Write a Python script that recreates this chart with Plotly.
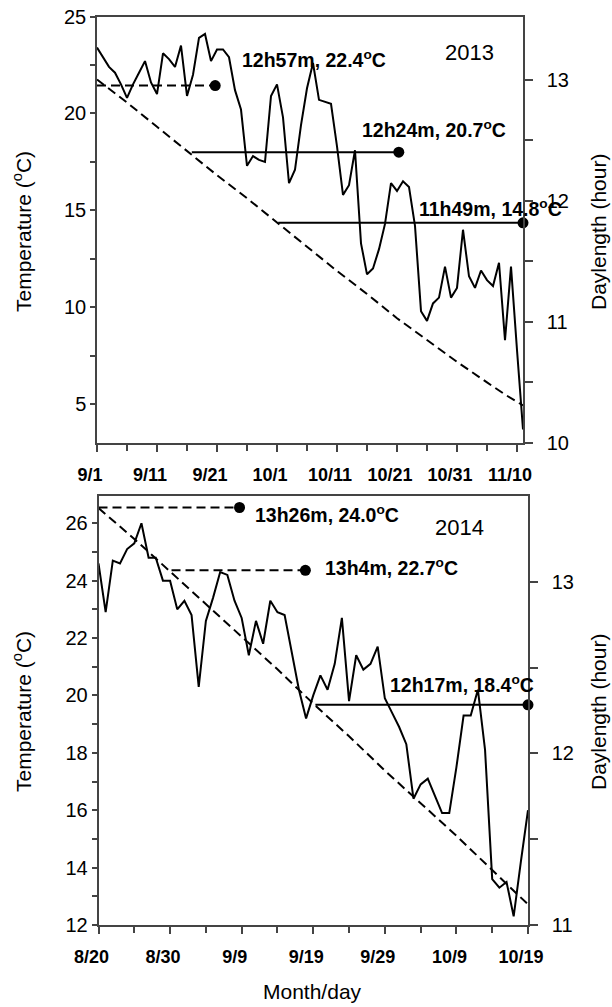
import plotly.graph_objects as go

# ---------------- data ----------------
# 2013 panel: day index 0 = 9/1
top_tick_days = [0, 10, 20, 30, 40, 50, 60, 70]
top_tick_text = ["9/1", "9/11", "9/21", "10/1", "10/11", "10/21", "10/31", "11/10"]
top_days = list(range(72))
top_temp = [23.4, 22.9, 22.4, 22.1, 21.5, 20.8, 21.5, 22.1, 22.7, 21.6,
            21.0, 23.1, 22.8, 22.4, 23.5, 20.9, 22.0, 23.9, 24.1, 22.7,
            23.3, 23.3, 22.9, 21.2, 20.2, 17.3, 17.8, 17.6, 17.5, 20.9,
            21.5, 19.8, 16.4, 17.1, 19.4, 21.3, 22.6, 20.7, 20.6, 20.5,
            18.3, 15.8, 16.3, 18.1, 13.3, 11.7, 12.0, 13.0, 14.3, 16.4,
            16.0, 16.5, 16.2, 14.2, 9.8, 9.3, 10.2, 10.5, 12.1, 10.5,
            11.0, 14.0, 11.6, 11.0, 11.9, 11.4, 11.1, 12.3, 8.3, 12.1,
            7.8, 3.7]
top_dl_days = [0, 5, 10, 15, 20, 25, 30, 35, 40, 45, 50, 55, 60, 65, 68, 71]
top_daylength = [13.00, 12.81, 12.61, 12.41, 12.21, 12.02, 11.82, 11.62,
                 11.42, 11.23, 11.03, 10.85, 10.67, 10.50, 10.40, 10.31]
top_ref_labels = ["12h57m, 22.4<sup>o</sup>C", "12h24m, 20.7<sup>o</sup>C", "11h49m, 14.8<sup>o</sup>C"]
top_ref_daylength = [12.95, 12.40, 11.817]
top_ref_start = [0, 15.8, 30.2]
top_ref_end = [19.7, 50.3, 71]

# 2014 panel: day index 0 = 8/20
bot_tick_days = [0, 10, 20, 30, 40, 50, 60]
bot_tick_text = ["8/20", "8/30", "9/9", "9/19", "9/29", "10/9", "10/19"]
bot_days = list(range(61))
bot_temp = [24.6, 22.9, 24.7, 24.6, 25.1, 25.3, 26.0, 24.8, 24.8, 24.0,
            24.0, 23.0, 23.3, 22.8, 20.3, 22.6, 23.4, 24.3, 24.2, 23.3,
            22.7, 21.4, 22.6, 21.8, 23.3, 22.9, 22.8, 21.5, 20.2, 19.2,
            20.0, 20.7, 20.2, 21.1, 22.7, 19.8, 21.4, 20.9, 21.1, 21.7,
            19.9, 19.4, 18.9, 18.3, 16.4, 16.9, 17.1, 16.5, 15.9, 15.9,
            17.5, 19.3, 19.3, 20.2, 18.1, 13.6, 13.3, 13.5, 12.3, 14.2,
            16.0]
bot_dl_days = [0, 5, 10, 15, 20, 25, 30, 35, 40, 45, 50, 55, 60]
bot_daylength = [13.43, 13.25, 13.06, 12.87, 12.68, 12.49, 12.29, 12.10,
                 11.90, 11.71, 11.52, 11.32, 11.12]
bot_ref_labels = ["13h26m, 24.0<sup>o</sup>C", "13h4m, 22.7<sup>o</sup>C", "12h17m, 18.4<sup>o</sup>C"]
bot_ref_daylength = [13.433, 13.067, 12.283]
bot_ref_start = [0, 10.2, 30.3]
bot_ref_end = [19.7, 28.9, 60]

# ---------------- figure ----------------
W, H = 612, 1007
FONT = "Arial, Liberation Sans, sans-serif"
AX = "#444444"
DASH = "9px,5px"


def px(x):
    return x / W


def py(y):
    return 1 - y / H


fig = go.Figure()


def add_panel(xa, ya_t, ya_d, days, temp, dl_days, dl, starts, ends, dls, dashed):
    fig.add_trace(go.Scatter(x=days, y=temp, mode="lines", xaxis=xa, yaxis=ya_t,
                             line=dict(color="black", width=2), cliponaxis=False,
                             showlegend=False, hoverinfo="skip"))
    fig.add_trace(go.Scatter(x=dl_days, y=dl, mode="lines", xaxis=xa, yaxis=ya_d,
                             line=dict(color="black", width=2, dash=DASH), cliponaxis=False,
                             showlegend=False, hoverinfo="skip"))
    for s, e, d, ds in zip(starts, ends, dls, dashed):
        fig.add_trace(go.Scatter(x=[s, e], y=[d, d], mode="lines", xaxis=xa, yaxis=ya_d,
                                 line=dict(color="black", width=2, dash=DASH if ds else "solid"),
                                 cliponaxis=False, showlegend=False, hoverinfo="skip"))
        fig.add_trace(go.Scatter(x=[e], y=[d], mode="markers", xaxis=xa, yaxis=ya_d,
                                 marker=dict(color="black", size=11), cliponaxis=False,
                                 showlegend=False, hoverinfo="skip"))


add_panel("x", "y", "y2", top_days, top_temp, top_dl_days, top_daylength,
          top_ref_start, top_ref_end, top_ref_daylength, [True, False, False])
add_panel("x2", "y3", "y4", bot_days, bot_temp, bot_dl_days, bot_daylength,
          bot_ref_start, bot_ref_end, bot_ref_daylength, [True, True, False])

common_axis = dict(showgrid=False, zeroline=False, showline=True, linecolor=AX,
                   linewidth=1.5, ticks="outside", tickcolor=AX, tickwidth=1.5,
                   automargin=False)

top_dom_x = [px(97), px(523)]
top_dom_y = [py(443), py(16.5)]
bot_dom_x = [px(98.5), px(528)]
bot_dom_y = [py(925), py(496)]

xfont = dict(family=FONT, size=18, color="black", weight="bold")
yfont = dict(family=FONT, size=20, color="black")

fig.update_layout(
    width=W, height=H, margin=dict(l=0, r=0, t=0, b=0, pad=0, autoexpand=False),
    paper_bgcolor="white", plot_bgcolor="white", showlegend=False,
    font=dict(family=FONT, color="black"),
    xaxis=dict(**common_axis, domain=top_dom_x, anchor="y", range=[0, 71],
               tickvals=top_tick_days, ticktext=top_tick_text, ticklen=7,
               tickfont=xfont, mirror=True, ticklabelshift=-7, ticklabelstandoff=8,
               minor=dict(tickvals=[5, 15, 25, 35, 45, 55, 65], ticks="outside", ticklen=6,
                          tickcolor=AX, tickwidth=1.5, showgrid=False)),
    yaxis=dict(**common_axis, domain=top_dom_y, anchor="x", range=[3, 25],
               tickvals=[5, 10, 15, 20, 25], ticklen=5, tickfont=yfont,
               minor=dict(tickvals=[7.5, 12.5, 17.5, 22.5], ticks="outside", ticklen=5,
                          tickcolor=AX, tickwidth=1.5, showgrid=False)),
    yaxis2=dict(**common_axis, overlaying="y", side="right", anchor="x", range=[10, 13.52],
                tickvals=[10, 11, 12, 13], ticklen=8, tickfont=yfont, ticklabelstandoff=10,
                minor=dict(tickvals=[10.5, 11.5, 12.5], ticks="outside", ticklen=8,
                           tickcolor=AX, tickwidth=1.5, showgrid=False)),
    xaxis2=dict(**common_axis, domain=bot_dom_x, anchor="y3", range=[0, 60],
                tickvals=bot_tick_days, ticktext=bot_tick_text, ticklen=7,
                tickfont=xfont, mirror=True, ticklabelshift=-7, ticklabelstandoff=8,
                minor=dict(tickvals=[5, 15, 25, 35, 45, 55], ticks="outside", ticklen=6,
                           tickcolor=AX, tickwidth=1.5, showgrid=False)),
    yaxis3=dict(**common_axis, domain=bot_dom_y, anchor="x2", range=[12, 26.95],
                tickvals=[12, 14, 16, 18, 20, 22, 24, 26], ticklen=5, tickfont=yfont,
                minor=dict(tickvals=[13, 15, 17, 19, 21, 23, 25], ticks="outside", ticklen=5,
                           tickcolor=AX, tickwidth=1.5, showgrid=False)),
    yaxis4=dict(**common_axis, overlaying="y3", side="right", anchor="x2", range=[11, 13.5],
                tickvals=[11, 12, 13], ticklen=8, tickfont=yfont, ticklabelstandoff=10,
                minor=dict(tickvals=[11.5, 12.5], ticks="outside", ticklen=8,
                           tickcolor=AX, tickwidth=1.5, showgrid=False)),
)

annots = []
ann_font = dict(family=FONT, size=19.5, color="black", weight="bold")
for txt, x, y in zip(top_ref_labels, [240, 360, 417], [59, 129, 208]):
    annots.append(dict(text=txt, x=px(x), y=py(y), xref="paper", yref="paper",
                       xanchor="left", yanchor="middle", showarrow=False, font=ann_font))
for txt, x, y in zip(bot_ref_labels, [253, 323, 388], [514, 567, 684]):
    annots.append(dict(text=txt, x=px(x), y=py(y), xref="paper", yref="paper",
                       xanchor="left", yanchor="middle", showarrow=False, font=ann_font))
year_font = dict(family=FONT, size=22, color="black")
annots.append(dict(text="2013", x=px(443), y=py(53), xref="paper", yref="paper",
                   xanchor="left", yanchor="middle", showarrow=False, font=year_font))
annots.append(dict(text="2014", x=px(433), y=py(527), xref="paper", yref="paper",
                   xanchor="left", yanchor="middle", showarrow=False, font=year_font))
title_font = dict(family=FONT, size=21, color="black")
for y in [232, 712]:
    annots.append(dict(text="Temperature (<sup>o</sup>C)", x=px(22), y=py(y), xref="paper",
                       yref="paper", xanchor="center", yanchor="middle", textangle=-90,
                       showarrow=False, font=title_font))
    annots.append(dict(text="Daylength (hour)", x=px(598), y=py(y), xref="paper",
                       yref="paper", xanchor="center", yanchor="middle", textangle=-90,
                       showarrow=False, font=title_font))
annots.append(dict(text="Month/day", x=px(312), y=py(991), xref="paper", yref="paper",
                   xanchor="center", yanchor="middle", showarrow=False, font=title_font))
fig.update_layout(annotations=annots)

fig.write_html("out.html", config={"displayModeBar": False},
               post_script="document.body.style.margin='0px';")
